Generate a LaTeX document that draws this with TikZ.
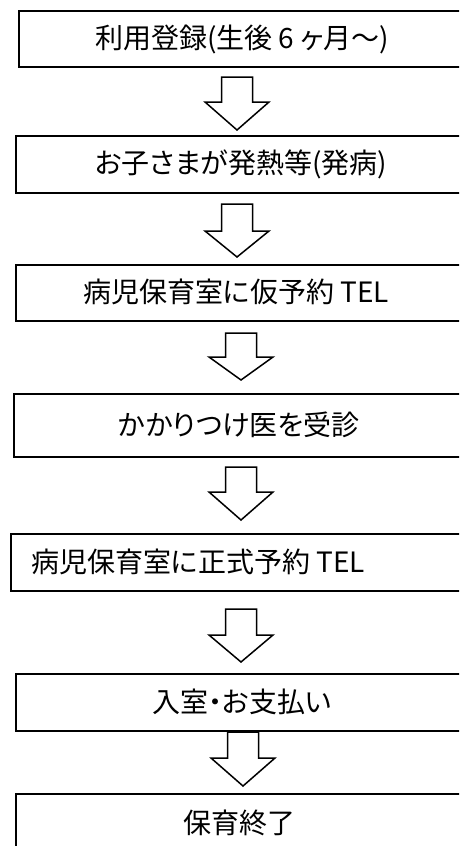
\documentclass[tikz,border=0pt]{standalone}
\usepackage{fontspec}
\setmainfont{Noto Sans CJK JP}[RawFeature=+palt]
\newcommand\blockarrow[4]{%
  \draw[arr] ({#1-15.5},#2) -- ({#1+15.5},#2) -- ({#1+15.5},#3) -- ({#1+32},#3)
    -- (#1,#4) -- ({#1-32},#3) -- ({#1-15.5},#3) -- cycle;}
\begin{document}
\begin{tikzpicture}[x=1pt,y=-1pt,
  box/.style={draw, line width=1.8pt, rectangle, anchor=north west, inner sep=0pt},
  arr/.style={draw, line width=1.5pt, line join=miter, fill=white},
  lbl/.style={font=\fontsize{28}{32}\selectfont, inner sep=0pt}]
\useasboundingbox (0,0) rectangle (459,846);
\fill[white] (0,0) rectangle (459,846);
\clip (0,0) rectangle (459,846);
% boxes
\node[box, minimum width=460pt, minimum height=56pt] (b1) at (18,10) {};
\node[box, minimum width=460pt, minimum height=57pt] (b2) at (15,135) {};
\node[box, minimum width=460pt, minimum height=56pt] (b3) at (15,264) {};
\node[box, minimum width=460pt, minimum height=63pt] (b4) at (13,393) {};
\node[box, minimum width=460pt, minimum height=57pt] (b5) at (10,533) {};
\node[box, minimum width=460pt, minimum height=57pt] (b6) at (15,673) {};
\node[box, minimum width=460pt, minimum height=80pt] (b7) at (15,793) {};
% texts
\node[lbl] (t1) at (242,39) {利用登録(生後 6 ヶ月～)};
\node[lbl] (t2) at (241,164) {お子さまが発熱等(発病)};
\node[lbl] (t3) at (236,292) {病児保育室に仮予約 TEL};
\node[lbl] (t4) at (239,425) {かかりつけ医を受診};
\node[lbl, anchor=west] (t5) at (31,562) {病児保育室に正式予約 TEL};
\node[lbl] (t6) at (242,702) {入室・お支払い};
\node[lbl] (t7) at (239,823) {保育終了};
% block arrows
\blockarrow{237}{77}{102}{130}
\blockarrow{237}{204}{231}{257}
\blockarrow{241}{333}{357}{380}
\blockarrow{241}{467}{492}{520}
\blockarrow{241}{609}{635}{662}
\blockarrow{243}{732}{758}{786}
\end{tikzpicture}
\end{document}
